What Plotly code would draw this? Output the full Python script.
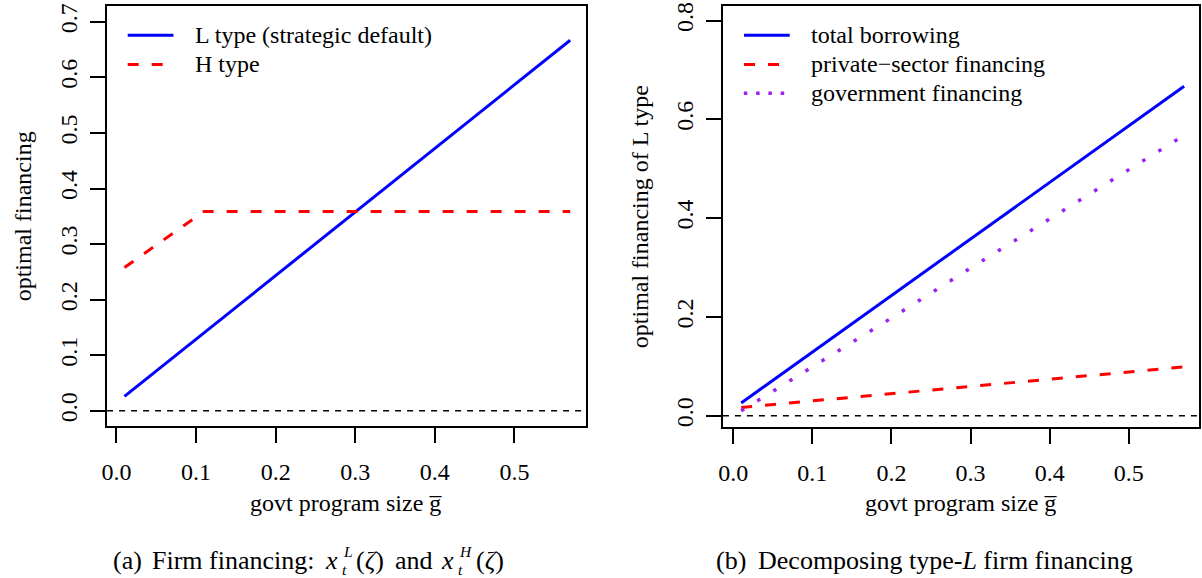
import plotly.graph_objects as go

W, H = 1202, 578
SERIF = "Liberation Serif"

# ---- panel (a): optimal financing by firm type ----
g_L = [0.01, 0.10, 0.20, 0.30, 0.40, 0.50, 0.57]
fin_L = [0.026, 0.129, 0.243, 0.358, 0.472, 0.587, 0.667]
g_H = [0.01, 0.11, 0.20, 0.30, 0.40, 0.50, 0.57]
fin_H = [0.258, 0.359, 0.359, 0.359, 0.359, 0.359, 0.359]

# ---- panel (b): decomposition of type-L financing ----
g_b = [0.01, 0.10, 0.20, 0.30, 0.40, 0.50, 0.57]
total_borrowing = [0.026, 0.129, 0.243, 0.358, 0.472, 0.587, 0.667]
private_fin = [0.017, 0.030, 0.045, 0.059, 0.074, 0.089, 0.099]
govt_fin = [0.010, 0.099, 0.198, 0.299, 0.398, 0.498, 0.568]

x_ticks = [0.0, 0.1, 0.2, 0.3, 0.4, 0.5]
y_ticks_a = [0.0, 0.1, 0.2, 0.3, 0.4, 0.5, 0.6, 0.7]
y_ticks_b = [0.0, 0.2, 0.4, 0.6, 0.8]

legend_a = ["L type (strategic default)", "H type"]
legend_b = ["total borrowing", "private\u2212sector financing", "government financing"]

BLUE, RED, PURPLE = "#0000FF", "#FF0000", "#A020F0"
DASH = "11px,13px"


def px(x):
    return x / W


def py(y):
    return 1 - y / H


fig = go.Figure()

fig.add_trace(go.Scatter(x=g_L, y=fin_L, mode="lines", xaxis="x", yaxis="y",
                         line=dict(color=BLUE, width=3)))
fig.add_trace(go.Scatter(x=g_H, y=fin_H, mode="lines", xaxis="x", yaxis="y",
                         line=dict(color=RED, width=3, dash=DASH)))

fig.add_trace(go.Scatter(x=g_b, y=total_borrowing, mode="lines", xaxis="x2", yaxis="y2",
                         line=dict(color=BLUE, width=3)))
fig.add_trace(go.Scatter(x=g_b, y=private_fin, mode="lines", xaxis="x2", yaxis="y2",
                         line=dict(color=RED, width=3, dash=DASH)))
fig.add_trace(go.Scatter(x=g_b, y=govt_fin, mode="lines", xaxis="x2", yaxis="y2",
                         line=dict(color=PURPLE, width=3.5, dash="3.5px,15.4px")))

axis_common = dict(
    showline=True, linecolor="black", linewidth=2, mirror=True,
    ticks="outside", ticklen=15, tickwidth=1.5, tickcolor="black",
    showgrid=False, zeroline=False, tickformat=".1f",
    tickfont=dict(family=SERIF, size=24, color="black"),
)

fig.update_layout(
    width=W, height=H,
    margin=dict(l=0, r=0, t=0, b=0),
    paper_bgcolor="white", plot_bgcolor="white",
    showlegend=False,
    font=dict(family=SERIF, size=24, color="black"),
    xaxis=dict(domain=[px(101.6), px(582.6)], range=[-0.0118, 0.5895],
               tickvals=x_ticks, anchor="y", ticklabelstandoff=8, **axis_common),
    yaxis=dict(domain=[py(425.7), py(3.3)], range=[-0.0281, 0.7281],
               tickvals=y_ticks_a, anchor="x", tickangle=-90, ticklabelstandoff=3,
               **axis_common),
    xaxis2=dict(domain=[px(720.5), px(1198.9)], range=[-0.0131, 0.5887],
                tickvals=x_ticks, anchor="y2", ticklabelstandoff=8, **axis_common),
    yaxis2=dict(domain=[py(426.0), py(3.3)], range=[-0.0222, 0.8290],
                tickvals=y_ticks_b, anchor="x2", tickangle=-90, ticklabelstandoff=3,
                **axis_common),
)

shapes = []
# horizontal reference line at zero in each panel
for xr, yr in (("x domain", "y"), ("x2 domain", "y2")):
    shapes.append(dict(type="line", xref=xr, yref=yr, x0=0, x1=1, y0=0, y1=0,
                       line=dict(color="black", width=1.5, dash="6px,6px")))

annotations = []


def text(s, x, y, size=24, xanchor="center", angle=0):
    annotations.append(dict(text=s, x=px(x), y=py(y), xref="paper", yref="paper",
                            xanchor=xanchor, yanchor="middle", showarrow=False,
                            textangle=angle, borderpad=0,
                            font=dict(family=SERIF, size=size, color="black")))


def key(x0, x1, y, color, dash, width=3):
    shapes.append(dict(type="line", xref="paper", yref="paper",
                       x0=px(x0), x1=px(x1), y0=py(y), y1=py(y),
                       line=dict(color=color, width=width, dash=dash)))


# legend of panel (a)
key(122.3, 168.3, 32.3, BLUE, "solid")
key(122.3, 168.3, 61.7, RED, DASH)
text(legend_a[0], 189.4, 32.3, xanchor="left")
text(legend_a[1], 189.4, 61.7, xanchor="left")

# legend of panel (b)
key(741.7, 787.7, 32.3, BLUE, "solid")
key(741.7, 787.7, 61.7, RED, DASH)
key(741.5, 787.7, 90.7, PURPLE, "3.5px,8.8px", width=3.5)
text(legend_b[0], 807.8, 32.3, xanchor="left")
text(legend_b[1], 807.8, 61.7, xanchor="left")
text(legend_b[2], 807.8, 90.7, xanchor="left")

# axis titles
text("govt program size g\u0305", 342.0, 503.0)
text("govt program size g\u0305", 960.0, 503.0)
text("optimal financing", 17.0, 214.5, angle=-90)
text("optimal financing of L type", 638.0, 214.5, angle=-90)

# sub-figure captions; superscript stacked above subscript t
CAP, SCR = 26, 15.5
text("(a)", 107.0, 560.0, CAP, "left")
text("Firm financing:", 145.4, 560.0, CAP, "left")
text("<i>x</i>", 319.6, 560.0, CAP, "left")
text("<i>L</i>", 337.5, 551.3, SCR, "left")
text("<i>t</i>", 337.0, 569.3, SCR, "left")
text("(<i>\u03b6</i>)", 350.5, 560.0, CAP, "left")
text("and", 390.4, 560.0, CAP, "left")
text("<i>x</i>", 436.3, 560.0, CAP, "left")
text("<i>H</i>", 454.0, 551.3, SCR, "left")
text("<i>t</i>", 453.5, 569.3, SCR, "left")
text("(<i>\u03b6</i>)", 471.0, 560.0, CAP, "left")
text("(b) \u2009Decomposing type-<i>L</i> firm financing", 923.4, 560.0, CAP)

fig.update_layout(shapes=shapes, annotations=annotations)

fig.write_html("out.html")
